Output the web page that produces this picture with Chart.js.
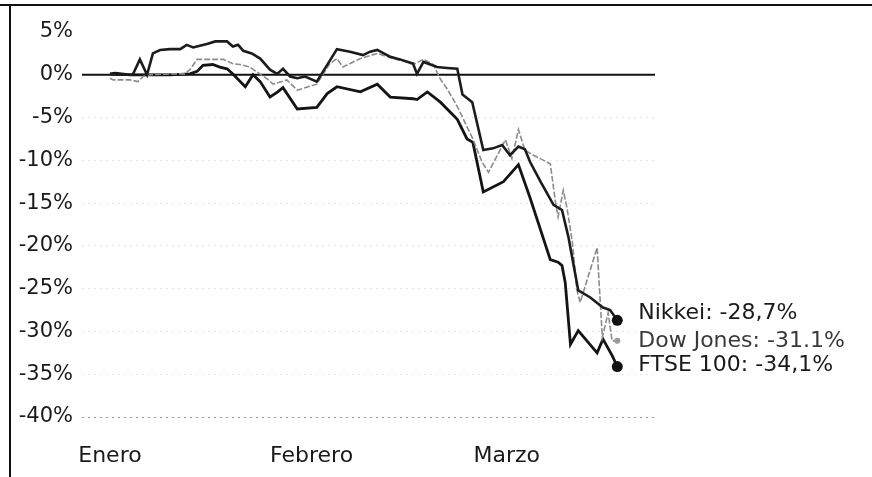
<!DOCTYPE html>
<html>
<head>
<meta charset="utf-8">
<script src="https://cdn.jsdelivr.net/npm/chart.js@4.4.1/dist/chart.umd.min.js"></script>
<style>
  html, body { margin: 0; padding: 0; background: #fff; }
  #wrap { position: relative; width: 872px; height: 477px; }
</style>
</head>
<body>
<div id="wrap"><canvas id="bolsas"></canvas></div>
<script>
// Month ticks (days since 1 January)
const meses = ['Enero', 'Febrero', 'Marzo'];
const mesesDias = [0, 31, 61];

// Nikkei: cumulative change since 1 January (%)
const nikkeiDias = [0, 1.2, 2.6, 3.5, 4.6, 5.7, 6.6, 7.7, 9.2, 10.8, 11.8, 12.8, 13.8, 14.9, 16.2, 18, 18.9, 19.7, 20.5, 21.8, 23.1, 24.6, 25.7, 26.6, 27.7, 28.8, 30, 31.8, 34.9, 36.9, 38.9, 40, 41.1, 43.1, 44.6, 46.6, 47.2, 48.2, 50.3, 51.8, 53.4, 54.2, 55.7, 57.4, 58.9, 60.3, 61.5, 62.8, 63.8, 64.6, 66.2, 68.2, 69.5, 70.5, 71.2, 72, 73.8, 75.8, 76.9, 78];
const nikkei = [0.1, 0, 0, 0, 1.8, 0, 2.5, 2.9, 3.0, 3.0, 3.5, 3.2, 3.4, 3.6, 3.9, 3.9, 3.3, 3.5, 2.8, 2.5, 1.9, 0.6, 0.1, 0.7, -0.2, -0.4, -0.2, -0.8, 3.0, 2.7, 2.3, 2.7, 2.9, 2.1, 1.8, 1.3, 0.1, 1.5, 0.9, 0.8, 0.7, -2.3, -3.2, -8.8, -8.6, -8.2, -9.4, -8.4, -8.7, -10.2, -12.5, -15.2, -15.8, -19, -21.9, -25.2, -26, -27.2, -27.5, -28.7];

// Dow Jones
const dowDias = [0, 0.5, 3.1, 4.3, 5.1, 6.2, 9.2, 11.5, 12.3, 13.4, 15.8, 17.4, 18.9, 20, 21.5, 24.2, 25.1, 27.2, 28.8, 31.8, 33.8, 34.9, 35.8, 38.5, 41.1, 43.5, 45.7, 46.9, 48.2, 49.7, 50.8, 51.8, 52.8, 53.8, 54.9, 55.8, 57.2, 58.2, 60.8, 61.8, 62.8, 63.8, 65.1, 67.7, 68.5, 68.9, 69.7, 70.3, 71.1, 71.8, 72.3, 74.9, 75.7, 76.6, 77.2, 78];
const dow = [-0.4, -0.6, -0.6, -0.8, -0.2, 0, 0.1, 0.1, 0.6, 1.8, 1.8, 1.8, 1.3, 1.2, 0.9, -0.5, -1.1, -0.6, -1.8, -1.1, 1.3, 1.9, 0.9, 1.9, 2.5, 1.9, 1.5, 1.3, 1.8, 1.2, -0.5, -1.6, -2.9, -4.3, -6.1, -7.5, -10.2, -11.4, -7.6, -9.8, -6.4, -8.8, -9.4, -10.4, -14.9, -16.6, -13.5, -15.7, -19.6, -25.2, -26.6, -20.2, -30.7, -27.8, -31.1, -31.1];

// FTSE 100
const ftseDias = [0, 0.8, 3.1, 5.7, 9.2, 12.3, 13.4, 14.3, 15.8, 16.9, 18, 18.9, 20.8, 22, 23.1, 24.6, 25.8, 26.6, 28.8, 31.8, 33.4, 34.9, 38.5, 41.1, 43.1, 46.6, 47.2, 48.8, 50.8, 53.4, 54.9, 55.8, 57.4, 60.5, 62.8, 64.6, 67.7, 68.9, 69.5, 70, 70.8, 72, 74.9, 75.8, 77.2, 78];
const ftse = [0.1, 0.2, 0, 0, 0, 0.1, 0.4, 1.1, 1.2, 0.9, 0.7, 0.1, -1.4, 0, -0.8, -2.6, -2.0, -1.5, -4.0, -3.8, -2.2, -1.4, -2.0, -1.1, -2.6, -2.8, -2.9, -2.0, -3.2, -5.2, -7.5, -7.9, -13.7, -12.5, -10.5, -14.4, -21.6, -21.9, -22.3, -24.3, -31.5, -29.9, -32.5, -30.9, -32.8, -34.1];

const etiquetas = ['Nikkei: -28,7%', 'Dow Jones: -31.1%', 'FTSE 100: -34,1%'];

const FONT = "'DejaVu Sans', sans-serif";

function puntos(dias, valores) {
  return dias.map((d, i) => ({ x: d, y: valores[i] }));
}

// last point only gets a dot
function radioFinal(r) {
  return ctx => ctx.dataIndex === ctx.dataset.data.length - 1 ? r : 0;
}

// Frame, zero line and end labels
const extras = {
  id: 'extras',
  beforeDraw(chart) {
    const c = chart.ctx;
    c.save();
    c.fillStyle = '#fff';
    c.fillRect(0, 0, chart.width, chart.height);
    c.strokeStyle = '#111';
    c.lineWidth = 2;
    c.beginPath();
    c.moveTo(0, 5);
    c.lineTo(chart.width, 5);
    c.moveTo(10, 5);
    c.lineTo(10, chart.height);
    c.stroke();
    c.restore();
  },
  beforeDatasetsDraw(chart) {
    const { ctx: c, chartArea: a, scales } = chart;
    const y0 = scales.y.getPixelForValue(0);
    c.save();
    c.strokeStyle = '#111';
    c.lineWidth = 2;
    c.beginPath();
    c.moveTo(a.left, y0);
    c.lineTo(a.right, y0);
    c.stroke();
    c.restore();
  },
  afterDatasetsDraw(chart) {
    const c = chart.ctx;
    const desfase = [-7, 0, -1];
    const colores = ['#1a1a1a', '#3a3a3a', '#1a1a1a'];
    c.save();
    c.font = '22px ' + FONT;
    c.textBaseline = 'middle';
    c.textAlign = 'left';
    chart.data.datasets.forEach((ds, i) => {
      const meta = chart.getDatasetMeta(i);
      const p = meta.data[meta.data.length - 1];
      c.fillStyle = colores[i];
      c.fillText(etiquetas[i], p.x + 21, p.y + desfase[i]);
    });
    c.restore();
  }
};

new Chart(document.getElementById('bolsas'), {
  type: 'line',
  data: {
    datasets: [
      {
        label: 'Nikkei',
        data: puntos(nikkeiDias, nikkei),
        borderColor: '#1c1c1c',
        borderWidth: 2.6,
        pointRadius: radioFinal(5.5),
        pointBackgroundColor: '#111',
        pointBorderWidth: 0,
        tension: 0,
      },
      {
        label: 'Dow Jones',
        data: puntos(dowDias, dow),
        borderColor: '#8c8c8c',
        borderWidth: 1.6,
        borderDash: [6, 2],
        pointRadius: radioFinal(3),
        pointBackgroundColor: '#9a9a9a',
        pointBorderWidth: 0,
        tension: 0,
      },
      {
        label: 'FTSE 100',
        data: puntos(ftseDias, ftse),
        borderColor: '#141414',
        borderWidth: 2.8,
        pointRadius: radioFinal(5.5),
        pointBackgroundColor: '#111',
        pointBorderWidth: 0,
        tension: 0,
      },
    ],
  },
  options: {
    responsive: true,
    maintainAspectRatio: false,
    animation: false,
    layout: { padding: { top: 32, right: 217, bottom: 0, left: 0 } },
    plugins: {
      legend: { display: false },
      tooltip: { enabled: false },
    },
    scales: {
      x: {
        type: 'linear',
        min: -4.3,
        max: 83.8,
        afterBuildTicks: scale => {
          scale.ticks = mesesDias.map(v => ({ value: v }));
        },
        afterFit: scale => { scale.height = 60; },
        grid: { display: false },
        border: { display: false },
        ticks: {
          autoSkip: false,
          maxRotation: 0,
          padding: 18,
          color: '#1a1a1a',
          font: { family: FONT, size: 22 },
          callback: v => meses[mesesDias.indexOf(v)],
        },
      },
      y: {
        min: -40,
        max: 5,
        afterFit: scale => { scale.width = 82; },
        border: { display: false, dash: [2, 4] },
        grid: {
          drawTicks: false,
          lineWidth: 1,
          color: ctx => {
            const v = ctx.tick.value;
            if (v === 0 || v === 5) return 'rgba(0,0,0,0)';
            if (v === -40) return '#9a9a9a';
            return '#e6e6e6';
          },
        },
        ticks: {
          stepSize: 5,
          padding: 9,
          color: '#1a1a1a',
          font: { family: FONT, size: 21 },
          callback: v => v + '%',
        },
      },
    },
  },
  plugins: [extras],
});
</script>
</body>
</html>
